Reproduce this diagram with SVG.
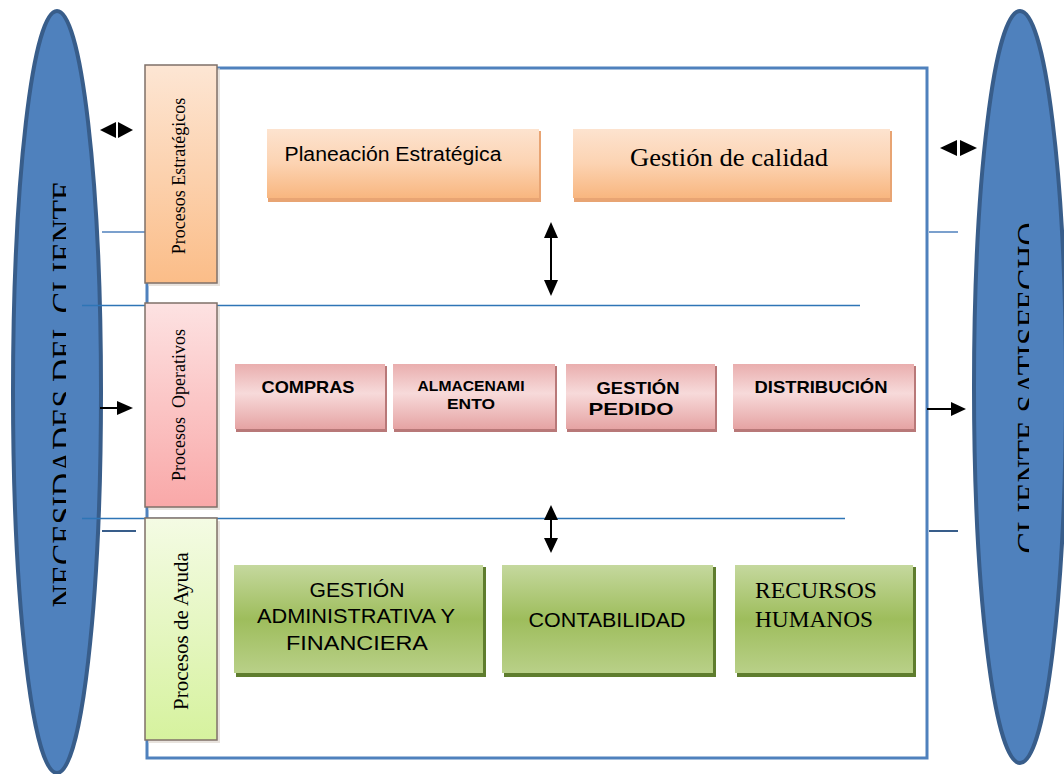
<svg xmlns="http://www.w3.org/2000/svg" width="1064" height="774" viewBox="0 0 1064 774">
<defs>
<style>
.sans{font-family:"Liberation Sans",Arial,sans-serif;fill:#000}
.serif{font-family:"Liberation Serif","Times New Roman",serif;fill:#000}
.b{font-weight:bold}
.ell{fill:#4f81bd;stroke:#385d8a;stroke-width:4}
.hl{stroke:#2e75b6;stroke-width:1.5;fill:none}
.sl{stroke:#4f81bd;stroke-width:1.5;fill:none}
.dl{stroke:#385d8a;stroke-width:2;fill:none}
.ar{stroke:#000;stroke-width:2;fill:none}
.ah{fill:#000}
.lab{stroke:#7f7068;stroke-width:1.5}
</style>
<linearGradient id="gO" x1="0" y1="0" x2="0" y2="1">
<stop offset="0" stop-color="#fde3cf"/><stop offset="0.5" stop-color="#fcd3b2"/><stop offset="1" stop-color="#f8b67f"/>
</linearGradient>
<linearGradient id="gP" x1="0" y1="0" x2="0" y2="1">
<stop offset="0" stop-color="#e9aeae"/><stop offset="0.45" stop-color="#f7dada"/><stop offset="1" stop-color="#e5a3a3"/>
</linearGradient>
<linearGradient id="gG" x1="0" y1="0" x2="0" y2="1">
<stop offset="0" stop-color="#c5d89e"/><stop offset="0.5" stop-color="#9ebd5c"/><stop offset="1" stop-color="#b9d088"/>
</linearGradient>
<linearGradient id="lO" x1="0" y1="0" x2="0" y2="1">
<stop offset="0" stop-color="#fde6d4"/><stop offset="1" stop-color="#fbbd88"/>
</linearGradient>
<linearGradient id="lP" x1="0" y1="0" x2="0" y2="1">
<stop offset="0" stop-color="#fde2e2"/><stop offset="1" stop-color="#f9a8a8"/>
</linearGradient>
<linearGradient id="lG" x1="0" y1="0" x2="0" y2="1">
<stop offset="0" stop-color="#f4fbe4"/><stop offset="1" stop-color="#d6f29e"/>
</linearGradient>
<clipPath id="cL"><rect x="0" y="0" width="66" height="774"/></clipPath>
<clipPath id="cR"><rect x="990" y="0" width="39" height="774"/></clipPath>
</defs>
<rect width="1064" height="774" fill="#fff"/>

<!-- main frame -->
<g id="frame">
<rect x="147" y="68" width="780" height="690" fill="#fff" stroke="#4f81bd" stroke-width="3"/>
</g>

<!-- ellipses -->
<g id="necesidades">
<ellipse class="ell" cx="57" cy="392" rx="44" ry="381"/>
<g clip-path="url(#cL)">
<text class="serif" font-size="32" transform="translate(74,394) rotate(-90)" text-anchor="middle" textLength="427" lengthAdjust="spacingAndGlyphs" fill="#111">NECESIDADES DEL CLIENTE</text>
</g>
</g>
<g id="satisfecho">
<ellipse class="ell" cx="1020" cy="387" rx="46" ry="376"/>
<g clip-path="url(#cR)">
<text class="serif" font-size="32" transform="translate(1039,388) rotate(-90)" text-anchor="middle" textLength="331" lengthAdjust="spacingAndGlyphs" fill="#111">CLIENTE SATISFECHO</text>
</g>
</g>

<!-- lines and arrows -->
<g id="connectors">
<line class="sl" x1="102" y1="232" x2="146" y2="232"/>
<line class="sl" x1="929" y1="232" x2="958" y2="232"/>
<line class="hl" x1="82" y1="305.5" x2="860" y2="305.5"/>
<line class="hl" x1="82" y1="518.5" x2="845" y2="518.5"/>
<line class="dl" x1="102" y1="531" x2="136" y2="531"/>
<line class="dl" x1="929" y1="531" x2="958" y2="531"/>
<path class="ah" d="M100,130 L116,122 L116,138 Z M133,130 L118,122 L118,138 Z"/>
<path class="ah" d="M940,148 L957,140 L957,156 Z M977,148 L960,140 L960,156 Z"/>
<line class="ar" x1="100" y1="408" x2="120" y2="408"/>
<path class="ah" d="M133,408 L117,401 L117,415 Z"/>
<line class="ar" x1="927" y1="409" x2="952" y2="409"/>
<path class="ah" d="M966,409 L951,402 L951,416 Z"/>
<line class="ar" x1="551" y1="232" x2="551" y2="286"/>
<path class="ah" d="M551,222 L544,238 L558,238 Z M551,296 L544,280 L558,280 Z"/>
<line class="ar" x1="551" y1="512" x2="551" y2="545"/>
<path class="ah" d="M551,505 L544,520 L558,520 Z M551,553 L544,538 L558,538 Z"/>
</g>

<!-- side labels -->
<g id="lab-estrategicos">
<rect x="148" y="68" width="72" height="218" fill="#d8d0c8" opacity="0.6"/>
<rect class="lab" x="145" y="65" width="72" height="218" fill="url(#lO)"/>
<text class="serif" font-size="18" transform="translate(185,176) rotate(-90)" text-anchor="middle">Procesos Estratégicos</text>
</g>
<g id="lab-operativos">
<rect x="148" y="306" width="72" height="204" fill="#d8d0c8" opacity="0.6"/>
<rect class="lab" x="145" y="303" width="72" height="204" fill="url(#lP)"/>
<text class="serif" font-size="18" transform="translate(185,405) rotate(-90)" text-anchor="middle" xml:space="preserve">Procesos  Operativos</text>
</g>
<g id="lab-ayuda">
<rect x="148" y="521" width="72" height="222" fill="#d8d0c8" opacity="0.6"/>
<rect class="lab" x="145" y="518" width="72" height="222" fill="url(#lG)" stroke="#b8c8a0"/>
<text class="serif" font-size="21" transform="translate(188,631) rotate(-90)" text-anchor="middle">Procesos de Ayuda</text>
</g>

<!-- strategic boxes -->
<g id="planeacion">
<rect x="268" y="131" width="273" height="71" fill="#e8a473"/>
<rect x="267" y="129" width="272" height="69" fill="url(#gO)"/>
<text class="sans" font-size="20" x="393" y="161" text-anchor="middle" textLength="217" lengthAdjust="spacingAndGlyphs">Planeación Estratégica</text>
</g>
<g id="calidad">
<rect x="574" y="131" width="318" height="71" fill="#e8a473"/>
<rect x="573" y="129" width="317" height="69" fill="url(#gO)"/>
<text class="serif" font-size="26" x="729" y="166" text-anchor="middle" textLength="198" lengthAdjust="spacingAndGlyphs">Gestión de calidad</text>
</g>

<!-- operative boxes -->
<g id="compras">
<rect x="236" y="366" width="151" height="66" fill="#b87878"/>
<rect x="235" y="364" width="150" height="65" fill="url(#gP)"/>
<text class="sans b" font-size="17" x="308" y="393" text-anchor="middle" textLength="93" lengthAdjust="spacingAndGlyphs">COMPRAS</text>
</g>
<g id="almacenamiento">
<rect x="394" y="366" width="163" height="66" fill="#b87878"/>
<rect x="393" y="364" width="162" height="65" fill="url(#gP)"/>
<text class="sans b" font-size="14" x="471" y="391" text-anchor="middle" textLength="107" lengthAdjust="spacingAndGlyphs">ALMACENAMI</text>
<text class="sans b" font-size="14" x="471" y="409" text-anchor="middle" textLength="48" lengthAdjust="spacingAndGlyphs">ENTO</text>
</g>
<g id="pedido">
<rect x="567" y="366" width="150" height="66" fill="#b87878"/>
<rect x="566" y="364" width="149" height="65" fill="url(#gP)"/>
<text class="sans b" font-size="17" x="638" y="394" text-anchor="middle" textLength="83" lengthAdjust="spacingAndGlyphs">GESTIÓN</text>
<text class="sans b" font-size="17" x="631" y="415" text-anchor="middle" textLength="85" lengthAdjust="spacingAndGlyphs">PEDIDO</text>
</g>
<g id="distribucion">
<rect x="734" y="366" width="182" height="66" fill="#b87878"/>
<rect x="733" y="364" width="181" height="65" fill="url(#gP)"/>
<text class="sans b" font-size="17" x="821" y="393" text-anchor="middle" textLength="133" lengthAdjust="spacingAndGlyphs">DISTRIBUCIÓN</text>
</g>

<!-- support boxes -->
<g id="gestion-admin">
<rect x="236" y="567" width="250" height="110" fill="#5f7d2e"/>
<rect x="234" y="565" width="249" height="108" fill="url(#gG)"/>
<text class="sans" font-size="21" x="357" y="597" text-anchor="middle" textLength="95" lengthAdjust="spacingAndGlyphs">GESTIÓN</text>
<text class="sans" font-size="21" x="356" y="623" text-anchor="middle" textLength="198" lengthAdjust="spacingAndGlyphs">ADMINISTRATIVA Y</text>
<text class="sans" font-size="21" x="357" y="650" text-anchor="middle" textLength="142" lengthAdjust="spacingAndGlyphs">FINANCIERA</text>
</g>
<g id="contabilidad">
<rect x="504" y="567" width="212" height="110" fill="#5f7d2e"/>
<rect x="502" y="565" width="211" height="108" fill="url(#gG)"/>
<text class="sans" font-size="20" x="607" y="627" text-anchor="middle" textLength="157" lengthAdjust="spacingAndGlyphs">CONTABILIDAD</text>
</g>
<g id="rrhh">
<rect x="737" y="567" width="179" height="110" fill="#5f7d2e"/>
<rect x="735" y="565" width="178" height="108" fill="url(#gG)"/>
<text class="serif" font-size="23" x="755" y="598" textLength="122" lengthAdjust="spacingAndGlyphs">RECURSOS</text>
<text class="serif" font-size="23" x="755" y="627" textLength="118" lengthAdjust="spacingAndGlyphs">HUMANOS</text>
</g>
</svg>
